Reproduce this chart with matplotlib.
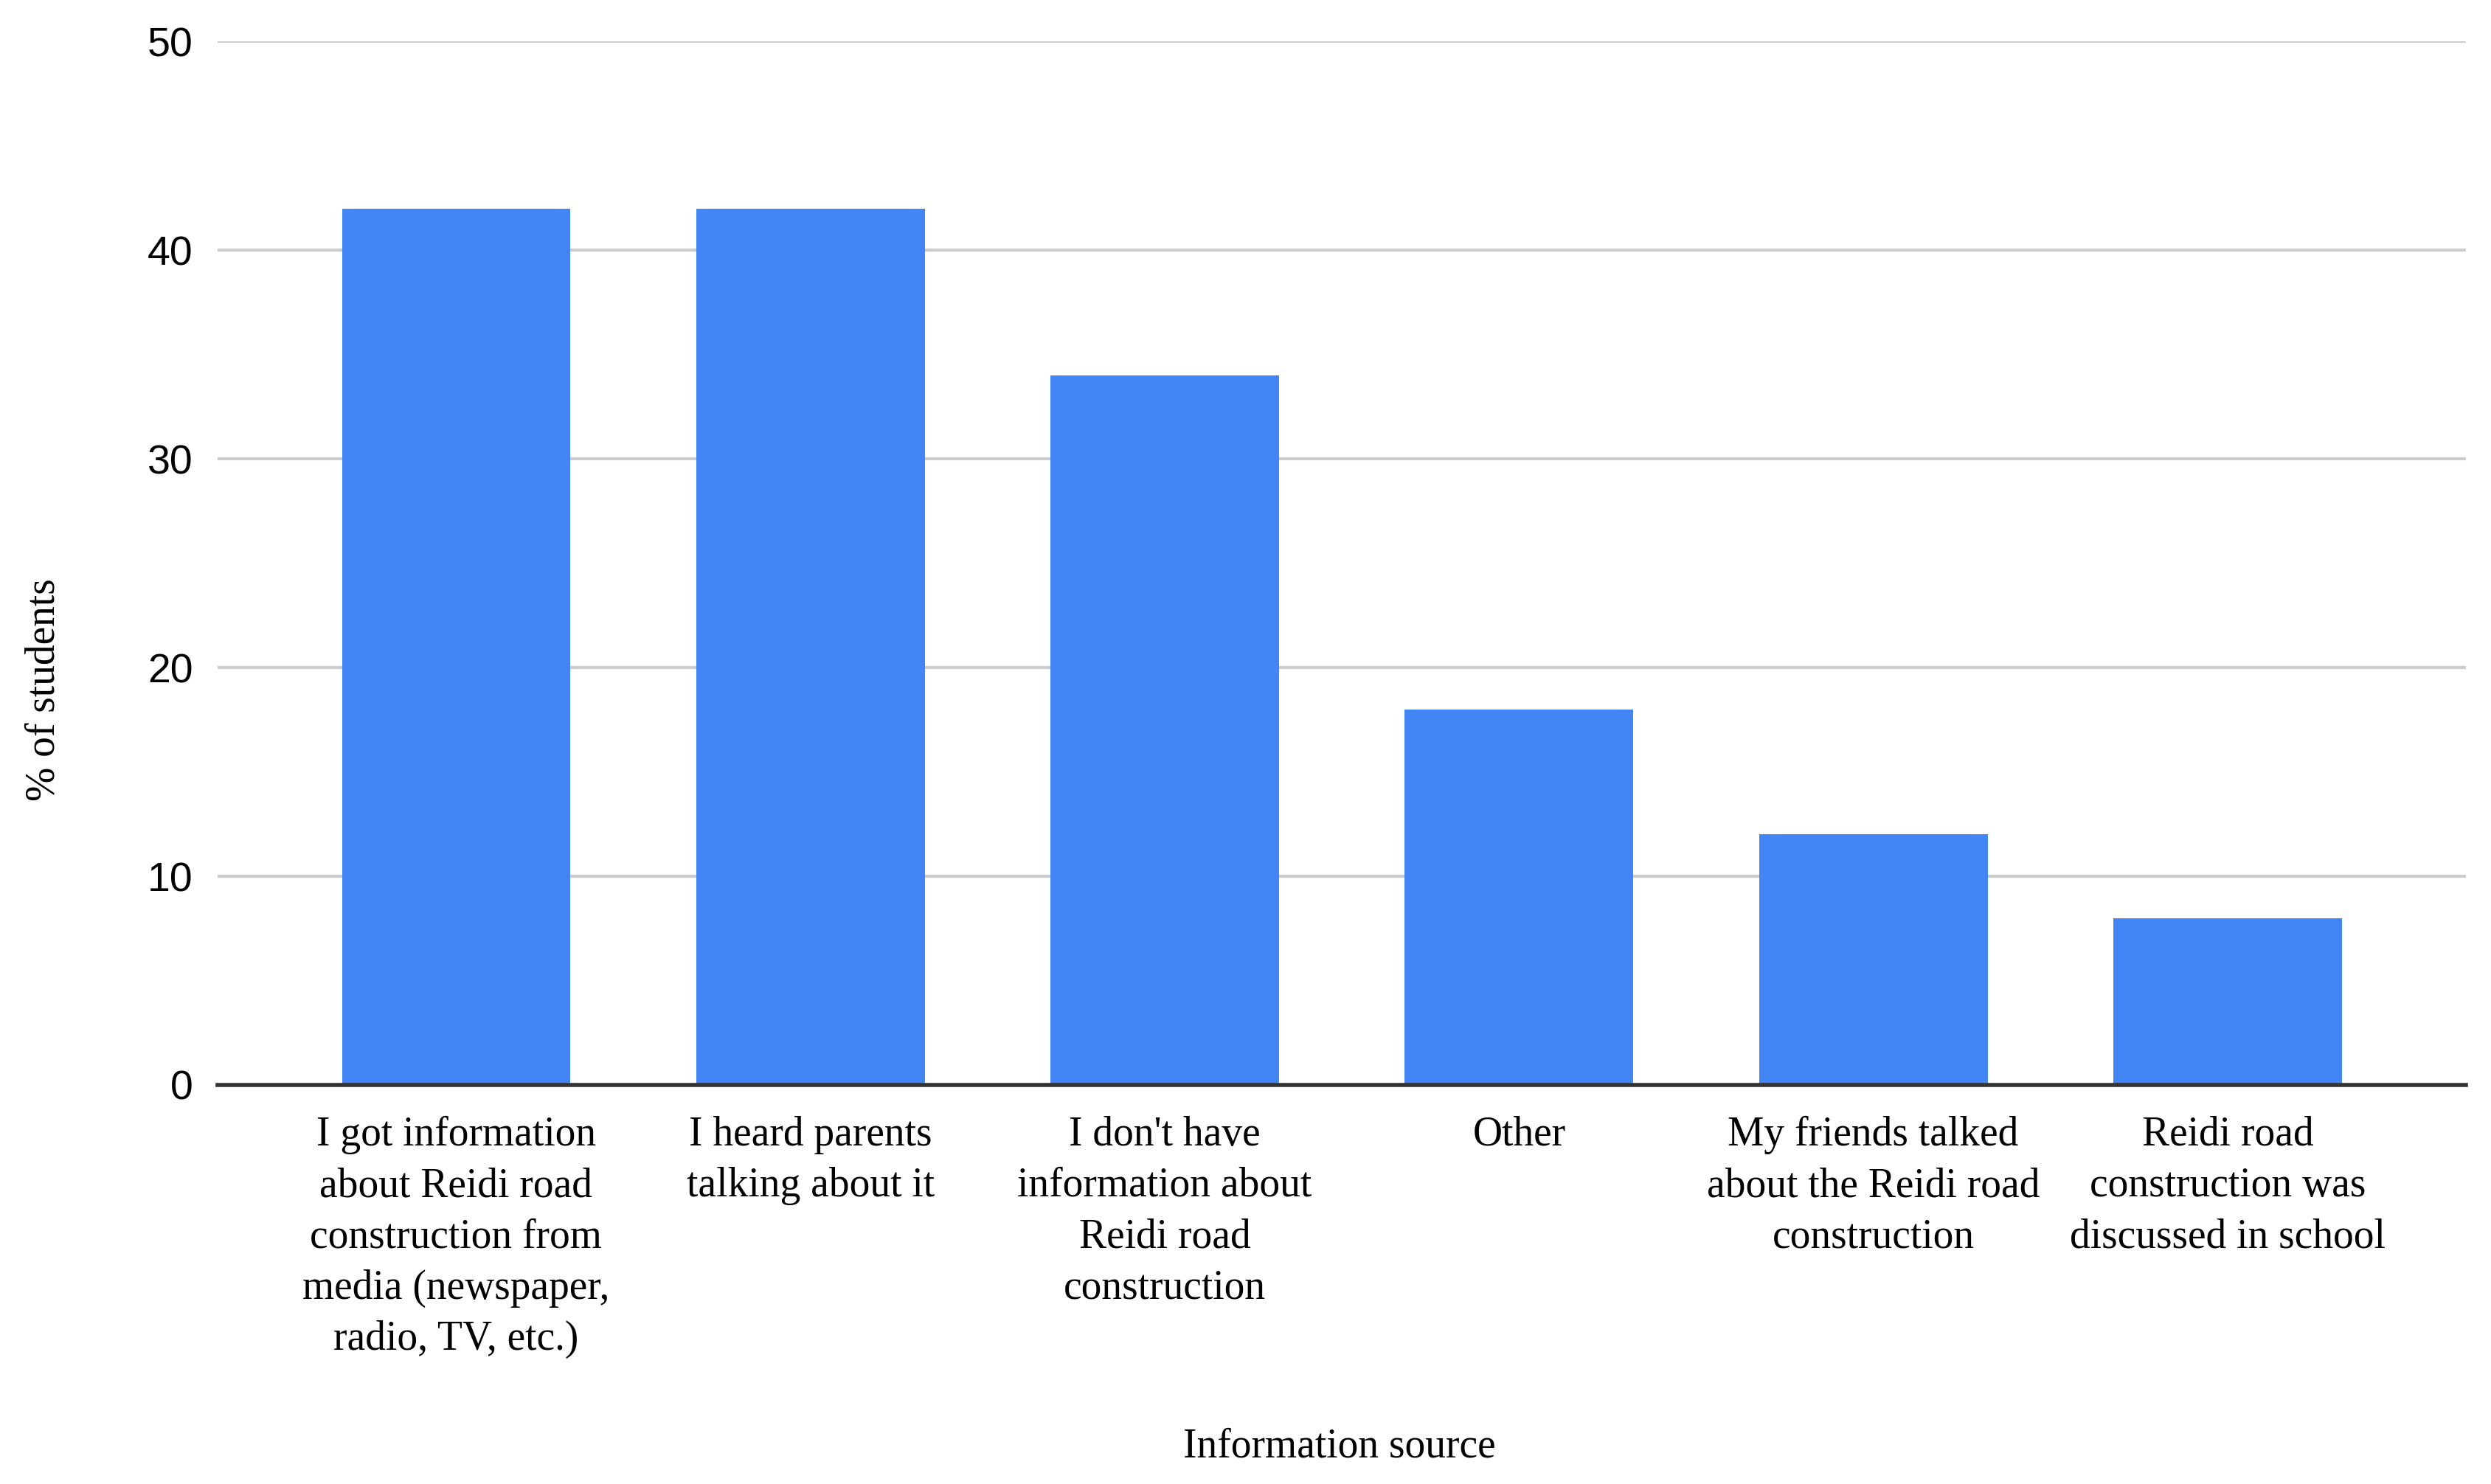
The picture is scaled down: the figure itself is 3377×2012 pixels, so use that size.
import matplotlib
matplotlib.use("Agg")
import matplotlib.pyplot as plt

# data
categories = [
    "I got information\nabout Reidi road\nconstruction from\nmedia (newspaper,\nradio, TV, etc.)",
    "I heard parents\ntalking about it",
    "I don't have\ninformation about\nReidi road\nconstruction",
    "Other",
    "My friends talked\nabout the Reidi road\nconstruction",
    "Reidi road\nconstruction was\ndiscussed in school",
]
percent = [42, 42, 34, 18, 12, 8]
yticks = [0, 10, 20, 30, 40, 50]

serif = "Liberation Serif"
sans = "Liberation Sans"

fig = plt.figure(figsize=(33.77, 20.12), dpi=100)
ax = fig.add_axes([0.0874, 0.2689, 0.9026, 0.7031])

x = list(range(len(categories)))
ax.bar(x, percent, width=0.645, color="#4285F4", zorder=3)

ax.set_xlim(-0.673, len(categories) - 1 + 0.673)
ax.set_ylim(0, 50)
ax.set_yticks(yticks)
ax.set_yticklabels([str(v) for v in yticks], fontfamily=sans, fontsize=40)
ax.set_xticks(x)
ax.set_xticklabels(categories, fontfamily=serif, fontsize=40, linespacing=1.43)

ax.tick_params(axis="both", length=0)
ax.tick_params(axis="x", pad=30)
ax.tick_params(axis="y", pad=24)

ax.grid(axis="y", color="#cccccc", linewidth=3, zorder=0)
for s in ["top", "right", "left"]:
    ax.spines[s].set_visible(False)
ax.spines["bottom"].set_color("#333333")
ax.spines["bottom"].set_linewidth(4)
ax.spines["bottom"].set_zorder(4)

fig.text(0.5376, 0.025, "Information source", ha="center", va="center",
         fontfamily=serif, fontsize=40)
fig.text(0.0175, 0.535, "% of students", ha="center", va="center",
         rotation=90, fontfamily=serif, fontsize=40)

fig.savefig("out.png", dpi=100, facecolor="white")
